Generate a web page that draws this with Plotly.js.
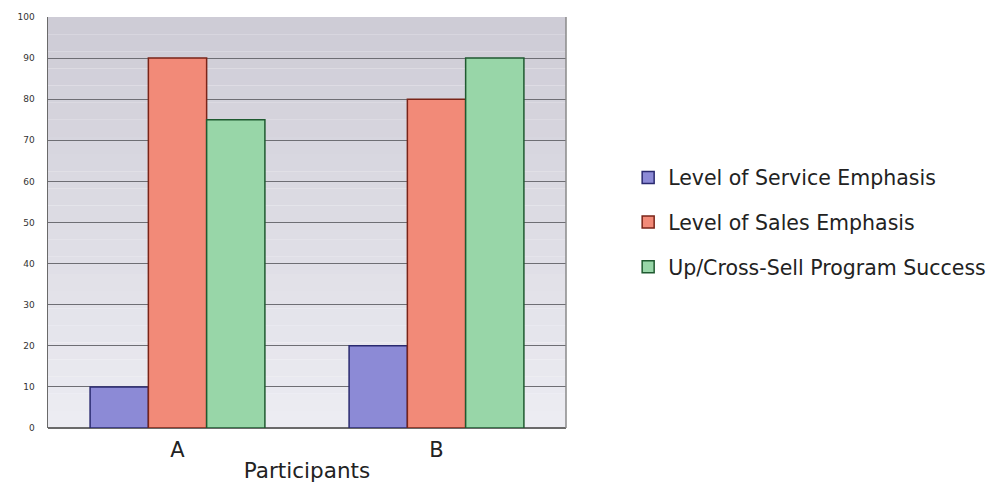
<!DOCTYPE html>
<html>
<head>
<meta charset="utf-8">
<script src="https://cdn.plot.ly/plotly-3.0.1.min.js"></script>
<style>
  html, body { margin: 0; padding: 0; background: #ffffff; }
  #chart { width: 992px; height: 487px; }
</style>
</head>
<body>
<div id="chart"></div>
<script>
// Participants and their scores for each measure
const participants = ['A', 'B'];
const serviceEmphasis = [10, 20];
const salesEmphasis = [90, 80];
const crossSellSuccess = [75, 90];
const seriesNames = ['Level of Service Emphasis', 'Level of Sales Emphasis', 'Up/Cross-Sell Program Success'];
const yTicks = [0, 10, 20, 30, 40, 50, 60, 70, 80, 90, 100];

const fills = ['#8c8ad6', '#f28a78', '#98d6a8'];
const edges = ['#2a2a70', '#7a2418', '#1f5a30'];

const traces = [serviceEmphasis, salesEmphasis, crossSellSuccess].map((vals, i) => ({
  type: 'bar',
  x: participants,
  y: vals,
  name: seriesNames[i],
  legendgroup: 'g' + i,
  marker: { color: fills[i], line: { color: edges[i], width: 1.5 } },
  hoverinfo: 'x+y+name'
}));

// soft vertical wash behind the plot area, darker at the top
const bands = [];
const nBands = 24;
for (let k = 0; k < nBands; k++) {
  const t = k / (nBands - 1);
  const r = Math.round(206 + (236 - 206) * t);
  const g = Math.round(204 + (236 - 204) * t);
  const b = Math.round(214 + (242 - 214) * t);
  bands.push({
    type: 'rect', xref: 'paper', yref: 'paper', layer: 'below',
    x0: 0, x1: 1, y0: 1 - (k + 1) / nBands, y1: 1 - k / nBands,
    fillcolor: `rgb(${r},${g},${b})`, line: { width: 0 }
  });
}
// right-hand frame line
bands.push({
  type: 'line', xref: 'paper', yref: 'paper', x0: 1, x1: 1, y0: 0, y1: 1,
  line: { color: '#8a8a8a', width: 1.5 }
});

const layout = {
  width: 992,
  height: 487,
  margin: { l: 48, r: 426, t: 17, b: 59, autoexpand: false },
  paper_bgcolor: '#ffffff',
  plot_bgcolor: 'rgba(0,0,0,0)',
  font: { family: 'DejaVu Sans, Verdana, sans-serif', color: '#222222' },
  barmode: 'group',
  bargap: 0.325,
  bargroupgap: 0,
  showlegend: true,
  legend: {
    x: 1.12, y: 0.658, xanchor: 'left', yanchor: 'top',
    font: { size: 20.5, color: '#222222' },
    traceorder: 'grouped',
    tracegroupgap: 15,
    bgcolor: 'rgba(0,0,0,0)'
  },
  xaxis: {
    type: 'category',
    tickfont: { size: 21, color: '#222222' },
    ticks: 'outside', ticklen: 3, tickcolor: 'rgba(0,0,0,0)',
    showline: false,
    title: { text: 'Participants', font: { size: 21.5, color: '#222222' }, standoff: 1 }
  },
  yaxis: {
    range: [0, 100],
    tickvals: yTicks,
    ticktext: yTicks.map(String),
    tickfont: { size: 9, color: '#333333' },
    ticks: 'outside', ticklen: 10, tickcolor: 'rgba(0,0,0,0)',
    showgrid: true, gridcolor: '#6e6e74', gridwidth: 1,
    showline: true, linecolor: '#6a6a6a', linewidth: 1.5,
    zeroline: true, zerolinecolor: '#6a6a6a', zerolinewidth: 1.5
  },
  shapes: bands
};

Plotly.newPlot('chart', traces, layout, { displayModeBar: false, staticPlot: true });
</script>
</body>
</html>
